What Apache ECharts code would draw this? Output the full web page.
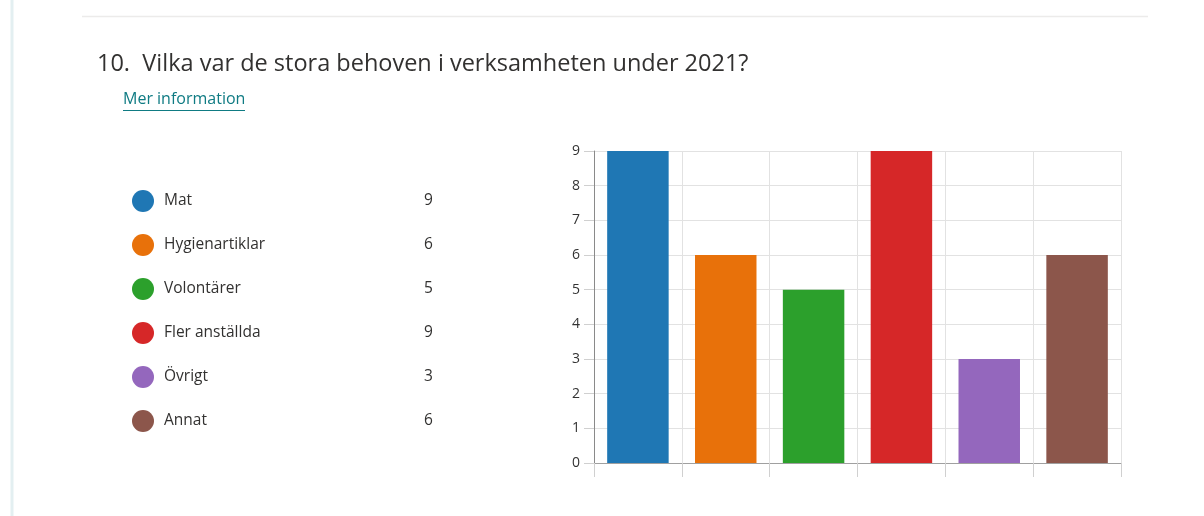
<!DOCTYPE html>
<html><head><meta charset="utf-8">
<script src="https://cdn.jsdelivr.net/npm/echarts@6/dist/echarts.min.js"></script>
<style>html,body{margin:0;padding:0;background:#fff}#c{width:1204px;height:516px}</style>
</head><body><div id="c"></div>
<script>
const categories = ['Mat', 'Hygienartiklar', 'Volontärer', 'Fler anställda', 'Övrigt', 'Annat'];
const values = [9, 6, 5, 9, 3, 6];
const colors = ['#1f77b4', '#e8710a', '#2ca02c', '#d62728', '#9467bd', '#8c564b'];
const yTicks = [0, 1, 2, 3, 4, 5, 6, 7, 8, 9];
const titleText = '10.  Vilka var de stora behoven i verksamheten under 2021?';
const linkText = 'Mer information';

const font = '"Open Sans", "Noto Sans", sans-serif';
const chart = echarts.init(document.getElementById('c'));
const series = categories.map((name, i) => ({
  name: name,
  type: 'bar',
  stack: 'all',
  barWidth: '70%',
  itemStyle: { color: colors[i] },
  data: categories.map((c, j) => (j === i ? values[i] : '-'))
}));
chart.setOption({
  animation: false,
  textStyle: { fontFamily: font },
  title: {
    text: titleText, left: 97, top: 52, padding: 0,
    textStyle: { fontSize: 23.5, fontWeight: 'normal', color: '#323130', fontFamily: font }
  },
  graphic: [
    { type: 'line', shape: { x1: 12, y1: 0, x2: 12, y2: 516 }, style: { stroke: '#e3eff1', lineWidth: 3 } },
    { type: 'line', shape: { x1: 82, y1: 16.5, x2: 1148, y2: 16.5 }, style: { stroke: '#ecebea', lineWidth: 1.5 } },
    { type: 'text', left: 123, top: 91, style: { text: linkText, fill: '#0f7b83', font: '16px ' + font } },
    { type: 'line', shape: { x1: 123, y1: 110.5, x2: 245, y2: 110.5 }, style: { stroke: '#0f7b83', lineWidth: 1 } }
  ],
  legend: {
    orient: 'vertical', left: 132, top: 190, padding: 0,
    itemWidth: 22, itemHeight: 22, itemGap: 22, icon: 'circle',
    data: categories,
    selectedMode: false,
    formatter: name => '{n|' + name + '}{v|' + values[categories.indexOf(name)] + '}',
    textStyle: {
      fontFamily: font,
      rich: {
        n: { width: 260, fontSize: 15.5, color: '#323130', padding: [0, 0, 0, 5], fontFamily: font },
        v: { fontSize: 15.5, color: '#323130', fontFamily: font }
      }
    }
  },
  grid: { left: 594, right: 83, top: 151, bottom: 53, containLabel: false },
  xAxis: {
    type: 'category', data: categories, boundaryGap: true,
    axisLabel: { show: false },
    axisLine: { lineStyle: { color: '#a0a0a0' } },
    axisTick: { show: true, interval: 0, length: 14, lineStyle: { color: '#d0d0d0' } },
    splitLine: { show: true, interval: 0, lineStyle: { color: '#e2e2e2' } }
  },
  yAxis: {
    type: 'value', min: 0, max: 9, interval: 1,
    axisLine: { show: true, lineStyle: { color: '#8a8a8a' } },
    axisTick: { show: true, length: 10, lineStyle: { color: '#d0d0d0' } },
    axisLabel: { fontSize: 14, color: '#333', margin: 14, fontFamily: font,
      formatter: v => (yTicks.includes(v) ? String(v) : '') },
    splitLine: { show: true, lineStyle: { color: '#e2e2e2' } }
  },
  series: series
});
</script></body></html>
